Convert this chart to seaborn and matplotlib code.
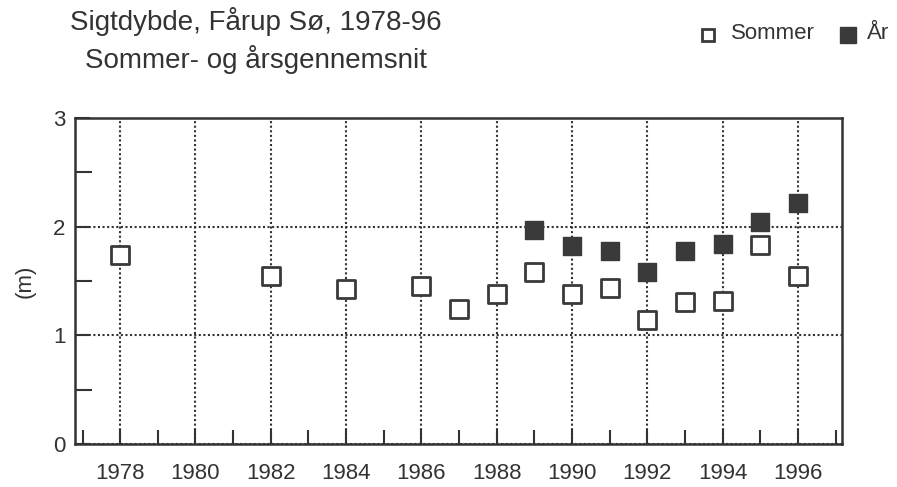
import numpy as np
import pandas as pd
import matplotlib.pyplot as plt
import seaborn as sns
from matplotlib.ticker import MultipleLocator
from matplotlib.lines import Line2D

# data
sommer_years = [1978, 1982, 1984, 1986, 1987, 1988, 1989, 1990, 1991, 1992, 1993, 1994, 1995, 1996]
sommer_vals = [1.74, 1.55, 1.43, 1.45, 1.24, 1.38, 1.58, 1.38, 1.44, 1.14, 1.31, 1.32, 1.83, 1.55]
aar_years = [1989, 1990, 1991, 1992, 1993, 1994, 1995, 1996]
aar_vals = [1.97, 1.82, 1.78, 1.58, 1.78, 1.84, 2.04, 2.22]

sommer = pd.DataFrame({"year": sommer_years, "depth": sommer_vals})
aar = pd.DataFrame({"year": aar_years, "depth": aar_vals})

sns.set_style("ticks")
plt.rcParams['font.family'] = ['Liberation Sans', 'DejaVu Sans']

fig = plt.figure(figsize=(8.97, 4.87), dpi=100)
ax = fig.add_axes([75/897, 1 - 444/487, (842-75)/897, (444-118)/487])

dark = "#3a3a3a"
txt = "#333333"
sns.scatterplot(data=sommer, x="year", y="depth", marker="s", s=150,
                facecolor="white", edgecolor=dark, linewidth=2, ax=ax, zorder=3)
sns.scatterplot(data=aar, x="year", y="depth", marker="s", s=170,
                color=dark, edgecolor=dark, linewidth=1, ax=ax, zorder=3)

ax.set_xlim(1976.8, 1997.17)
ax.set_ylim(0, 3)
ax.xaxis.set_major_locator(MultipleLocator(2))
ax.xaxis.set_minor_locator(MultipleLocator(1))
ax.yaxis.set_major_locator(MultipleLocator(1))
ax.yaxis.set_minor_locator(MultipleLocator(0.5))
ax.tick_params(which="both", direction="in", color=txt, width=1.5, labelsize=16, labelcolor=txt)
ax.tick_params(which="major", length=11)
ax.tick_params(which="minor", length=10)
ax.tick_params(axis="y", which="minor", length=12)
ax.tick_params(axis="x", pad=14)
ax.tick_params(axis="y", pad=7)
ax.grid(True, which="major", linestyle=(0, (1, 1.2)), color=txt, linewidth=1.5)
for s in ax.spines.values():
    s.set_linewidth(1.8)
    s.set_color(txt)
ax.set_xlabel("")
ax.set_ylabel("(m)", fontsize=16, color=txt, labelpad=12)

fig.text(256/897, 1 - 22/487, "Sigtdybde, Fårup Sø, 1978-96",
         ha="center", va="center", fontsize=20, color=txt)
fig.text(256/897, 1 - 60/487, "Sommer- og årsgennemsnit",
         ha="center", va="center", fontsize=20, color=txt)

# legend
fig.add_artist(Line2D([708/897], [1 - 35/487], transform=fig.transFigure, marker="s",
                      markersize=9, markerfacecolor="white", markeredgecolor=dark,
                      markeredgewidth=2, linestyle="none"))
fig.text(731/897, 1 - 33/487, "Sommer", fontsize=16, color=txt, va="center", ha="left")
fig.add_artist(Line2D([848/897], [1 - 35/487], transform=fig.transFigure, marker="s",
                      markersize=11, markerfacecolor=dark, markeredgecolor=dark,
                      linestyle="none"))
fig.text(867/897, 1 - 33/487, "År", fontsize=16, color=txt, va="center", ha="left")

fig.savefig("out.png", dpi=100)
